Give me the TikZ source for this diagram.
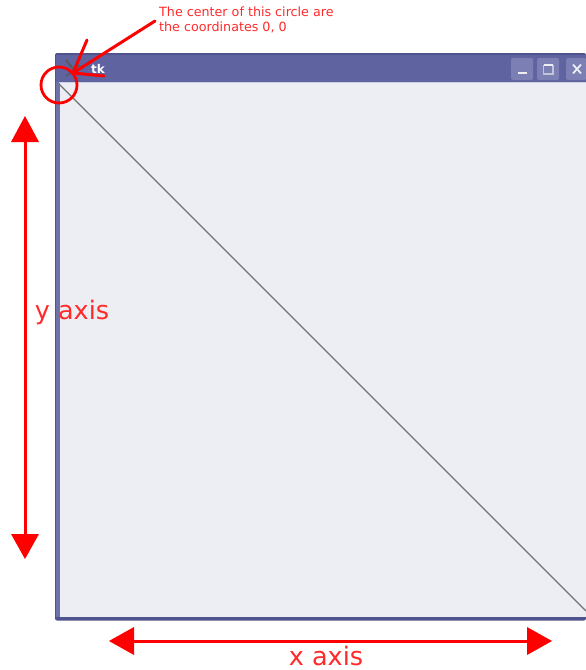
\documentclass[tikz,border=0pt]{standalone}
\usepackage{fontspec}
\setmainfont{DejaVu Sans}
\definecolor{frame}{HTML}{5F639F}
\definecolor{framedark}{HTML}{50548E}
\definecolor{btn}{HTML}{7B7FB3}
\definecolor{body}{HTML}{EDEEF3}
\definecolor{redm}{HTML}{FF0000}
\definecolor{redtext}{HTML}{FF2A2A}
\tikzset{
  bigarrow/.style={draw=redm,line width=3pt},
  headtri/.style={fill=redm,draw=none},
  redmark/.style={draw=redm,line width=3pt,line cap=round},
  biglabel/.style={text=redtext,font=\fontsize{25.5}{28}\selectfont,inner sep=0pt},
  smalllabel/.style={text=redtext,font=\fontsize{12.7}{15.5}\selectfont,inner sep=0pt,align=left,anchor=north west},
  winbtn/.style={fill=btn,draw=none,rounded corners=1.5pt},
  glyph/.style={draw=body,line width=1.8pt}
}
\begin{document}
\begin{tikzpicture}[x=1pt,y=-1pt]
\useasboundingbox (0,0) rectangle (586,670);
% window
\fill[framedark,rounded corners=2pt] (55,53) rectangle (586,620.5);
\fill[frame] (56,55) rectangle (586,82);
\fill[frame!90!white] (56,82) rectangle (60,617);
\fill[body] (59.5,83) rectangle (586,617);
\draw[white!70!frame,line width=1pt] (59,82.5) -- (586,82.5);
% title bar
\node[text=white,font=\bfseries\fontsize{12}{14}\selectfont,inner sep=0pt] (title) at (98,69) {tk};
\draw[gray!70!black,line width=1.8pt] (66,60) -- (78,75);
\draw[gray!70!black,line width=1.2pt] (80,65) -- (66,76);
\fill[winbtn] (511,58) rectangle (533,80);
\fill[winbtn] (537,58) rectangle (559,80);
\fill[winbtn] (566,58) rectangle (586,80);
\draw[glyph] (518,73) -- (527,73);
\draw[frame!30!body,line width=1.6pt] (543.5,65.5) rectangle (553,74);
\draw[body,line width=1.2pt] (543.5,65) -- (553,65);
\draw[glyph] (573,64.5) -- (581,73.5) (581,64.5) -- (573,73.5);
% diagonal
\coordinate (origin) at (59,84);
\coordinate (corner) at (586,611);
\draw[gray!90!black,line width=1.1pt] (origin) -- (corner);
% y axis
\coordinate (ytop) at (25,116);
\coordinate (ybot) at (25,559);
\draw[bigarrow] (25,140) -- (25,536);
\fill[headtri] (ytop) -- (39,142) -- (11,142) -- cycle;
\fill[headtri] (ybot) -- (39,534) -- (11,534) -- cycle;
% x axis
\coordinate (xleft) at (109,641);
\coordinate (xright) at (552,641);
\draw[bigarrow] (132,641) -- (529,641);
\fill[headtri] (xleft) -- (134,627) -- (134,655) -- cycle;
\fill[headtri] (xright) -- (527,627) -- (527,655) -- cycle;
% labels
\node[biglabel] (ylabel) at (72,312) {y axis};
\node[biglabel] (xlabel) at (326,656) {x axis};
\node[smalllabel] (note) at (159,6.5) {The center of this circle are\\the coordinates 0, 0};
% circle and pointer
\node[draw=redm,line width=2.8pt,circle,minimum size=36pt,inner sep=0pt] (mark) at (59,85) {};
\coordinate (tip) at (73,73);
\draw[redmark] (155,21) -- (tip);
\draw[redmark] (87,40) -- (tip) -- (104,76);
\end{tikzpicture}
\end{document}
